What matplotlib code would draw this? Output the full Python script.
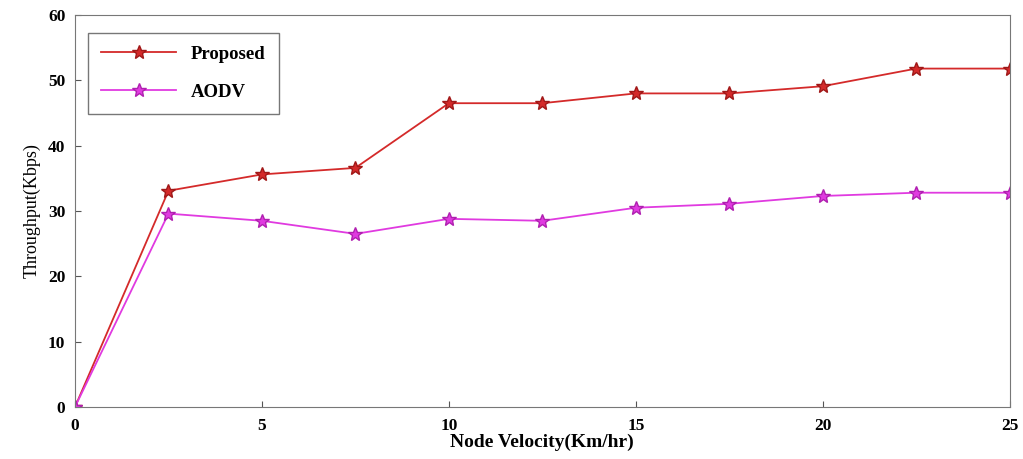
import numpy as np
import matplotlib.pyplot as plt

plt.rcParams['font.family'] = ['Liberation Serif', 'DejaVu Serif']

velocity = [0, 2.5, 5, 7.5, 10, 12.5, 15, 17.5, 20, 22.5, 25]
proposed = [0, 33.1, 35.6, 36.6, 46.5, 46.5, 48.0, 48.0, 49.1, 51.8, 51.8]
aodv = [0, 29.6, 28.5, 26.5, 28.8, 28.5, 30.5, 31.1, 32.3, 32.8, 32.8]

fig = plt.figure(figsize=(10.23, 4.59), dpi=100)
ax = fig.add_axes([0.0733, 0.1133, 0.9137, 0.854])

ax.plot(velocity, proposed, color='#d42a2a', marker='*', markersize=10,
        markeredgecolor='#a01818', linewidth=1.3, label='Proposed')
ax.plot(velocity, aodv, color='#e03ae0', marker='*', markersize=10,
        markeredgecolor='#b020b0', linewidth=1.3, label='AODV')

ax.set_xlim(0, 25)
ax.set_ylim(0, 60)
ax.set_xticks(np.arange(0, 26, 5))
ax.set_yticks(np.arange(0, 61, 10))
ax.tick_params(direction='in', length=4, labelsize=12.5, color='#555555')
ax.tick_params(axis='x', pad=8)
ax.tick_params(axis='y', pad=7)
for lbl in ax.get_xticklabels() + ax.get_yticklabels():
    lbl.set_fontweight('bold')
for s in ax.spines.values():
    s.set_color('#777777')

ax.set_xlabel('Node Velocity(Km/hr)', fontsize=14, fontweight='bold', labelpad=0)
ax.set_ylabel('Throughput(Kbps)', fontsize=13, labelpad=5)

leg = ax.legend(loc='upper left', bbox_to_anchor=(0.014, 0.955), borderaxespad=0,
                prop={'weight': 'bold', 'size': 13.5}, fancybox=False,
                edgecolor='#555555', borderpad=0.7, labelspacing=1.1,
                handlelength=4.0)
leg.get_frame().set_linewidth(1.0)

fig.savefig('out.png', dpi=100)
